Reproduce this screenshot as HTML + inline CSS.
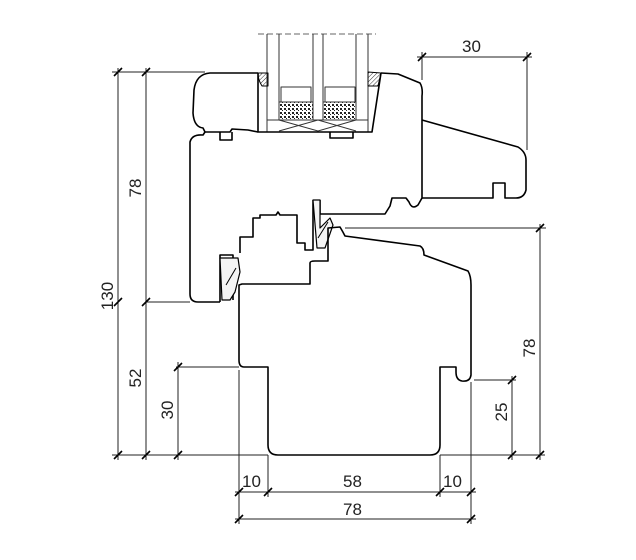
<!DOCTYPE html>
<html><head><meta charset="utf-8"><style>
html,body{margin:0;padding:0;background:#fff}
svg{display:block}
text{font-family:"Liberation Sans",sans-serif;font-size:17px;fill:#222}
</style></head><body>
<svg width="636" height="560" viewBox="0 0 636 560" xmlns="http://www.w3.org/2000/svg">
<defs>
<pattern id="h" width="3" height="3" patternUnits="userSpaceOnUse" patternTransform="rotate(45)"><line x1="0" y1="0" x2="0" y2="3" stroke="#333" stroke-width="1"/></pattern>
<pattern id="d" width="4" height="4" patternUnits="userSpaceOnUse"><rect width="4" height="4" fill="#fff"/><rect x="0" y="0" width="2" height="2" fill="#222"/><rect x="2" y="2" width="1" height="1" fill="#222"/></pattern>
</defs>
<g fill="none" stroke="#000" stroke-width="1.6" stroke-linejoin="round">
<!-- glass -->
<path d="M258 34 H376" stroke="#666" stroke-width="1" stroke-dasharray="6,3"/>
<g stroke-width="1" stroke="#333">
<line x1="267" y1="34" x2="267" y2="132"/><line x1="279" y1="34" x2="279" y2="120"/>
<line x1="313" y1="34" x2="313" y2="120"/><line x1="323" y1="34" x2="323" y2="120"/>
<line x1="356" y1="34" x2="356" y2="120"/><line x1="368" y1="34" x2="368" y2="132"/>
<rect x="281" y="87" width="30" height="15"/><rect x="325" y="87" width="30" height="15"/>
<rect x="279" y="102" width="34" height="18" fill="url(#d)"/><rect x="323" y="102" width="33" height="18" fill="url(#d)"/>
<path d="M267 120 H368 M279 120 L318 131 L356 120 M279 131 L318 120 L356 131"/>
</g>
<path d="M258 73 L268 73 L268 86 L262 86 Q258 80 258 73Z" fill="url(#h)" stroke-width="1"/>
<path d="M368 72 L381 73 L378 86 L368 86Z" fill="url(#h)" stroke-width="1"/>
<!-- sash -->
<path d="M258 73 H210 Q196 74 194 90 L193 113 Q194 127 203 128 L205 132 L203 135 Q192 134 190 142 L190 294 Q190 302 198 302 L220 302"/>
<path d="M220 302 L220 255 L233 255 L233 300"/>
<path d="M240 253 V237 H253 V218 H260 V215 H276 L278 212 L280 215 H297 V243 H305 V250 H313 V200"/>
<path d="M258 73 V132 H372 L372 132 L381 73"/>
<path d="M381 73 L398 74 L420 83 Q423 88 422 96 V198 L418 205 Q412 210 409 202 L406 198 H392 L390 206 L385 214 H320 V200"/>
<path d="M422 120 L518 147 Q526 152 526 160 V190 Q524 198 516 198 H505 V183 H493 V198 H422"/>
<path d="M205 132 H230 L232 129 L248 130 L258 132"/>
<path d="M220 132 V140 H232 V132 M330 132 V138 H353 V132"/>
<!-- seals -->
<path d="M313 200 H320 V228 L330 218 L333 225 L325 248 L317 248 Z" stroke-width="1.2" fill="#f4f4f4"/>
<path d="M220 258 H238 L240 272 L235 292 L230 300 L222 300 Z" stroke-width="1.2" fill="#f4f4f4"/>
<path d="M226 285 L236 268 M318 238 L328 222" stroke-width="1"/>
<!-- frame -->
<path d="M328 228 L340 227 Q343 232 345 236 L420 246 Q424 248 424 255 L468 271 Q471 276 471 285 V375 Q470 382 462 381 Q456 380 456 372 V367 H440 V445 Q440 455 430 455 H278 Q268 455 268 445 V367 H244 Q239 367 239 360 V285 L242 284 H310 V263 Q310 261 315 261 H328 Z"/>
</g>
<!-- dimensions -->
<g stroke="#222" stroke-width="1" fill="none">
<line x1="112" y1="72" x2="205" y2="72"/>
<line x1="145" y1="302" x2="190" y2="302"/>
<line x1="176" y1="367" x2="239" y2="367"/>
<line x1="112" y1="455" x2="268" y2="455"/>
<line x1="440" y1="455" x2="545" y2="455"/>
<line x1="345" y1="228" x2="546" y2="228"/>
<line x1="474" y1="380" x2="516" y2="380"/>
<line x1="118" y1="68" x2="118" y2="460"/>
<line x1="146" y1="68" x2="146" y2="460"/>
<line x1="178" y1="362" x2="178" y2="460"/>
<line x1="512" y1="376" x2="512" y2="460"/>
<line x1="540" y1="224" x2="540" y2="460"/>
<line x1="239" y1="370" x2="239" y2="524"/>
<line x1="268" y1="455" x2="268" y2="497"/>
<line x1="440" y1="455" x2="440" y2="497"/>
<line x1="471" y1="382" x2="471" y2="524"/>
<line x1="235" y1="492" x2="476" y2="492"/>
<line x1="235" y1="519" x2="476" y2="519"/>
<line x1="417" y1="57" x2="532" y2="57"/>
<line x1="422" y1="52" x2="422" y2="80"/>
<line x1="527" y1="52" x2="527" y2="150"/>
</g>
<g stroke="#000" stroke-width="1.6">
<path d="M114 76 L122 68 M114 306 L122 298 M114 459 L122 451 M142 76 L150 68 M142 306 L150 298 M142 459 L150 451 M174 371 L182 363 M174 459 L182 451 M508 384 L516 376 M508 459 L516 451 M536 232 L544 224 M536 459 L544 451 M235 496 L243 488 M264 496 L272 488 M436 496 L444 488 M467 496 L475 488 M235 523 L243 515 M467 523 L475 515 M418 61 L426 53 M523 61 L531 53"/>
</g>
<text x="462" y="52">30</text>
<text x="242" y="487">10</text>
<text x="343" y="487">58</text>
<text x="443" y="487">10</text>
<text x="343" y="515">78</text>
<text transform="translate(113,296) rotate(-90)" text-anchor="middle">130</text>
<text transform="translate(141,188) rotate(-90)" text-anchor="middle">78</text>
<text transform="translate(141,378) rotate(-90)" text-anchor="middle">52</text>
<text transform="translate(173,410) rotate(-90)" text-anchor="middle">30</text>
<text transform="translate(507,412) rotate(-90)" text-anchor="middle">25</text>
<text transform="translate(535,348) rotate(-90)" text-anchor="middle">78</text>
</svg>
</body></html>
